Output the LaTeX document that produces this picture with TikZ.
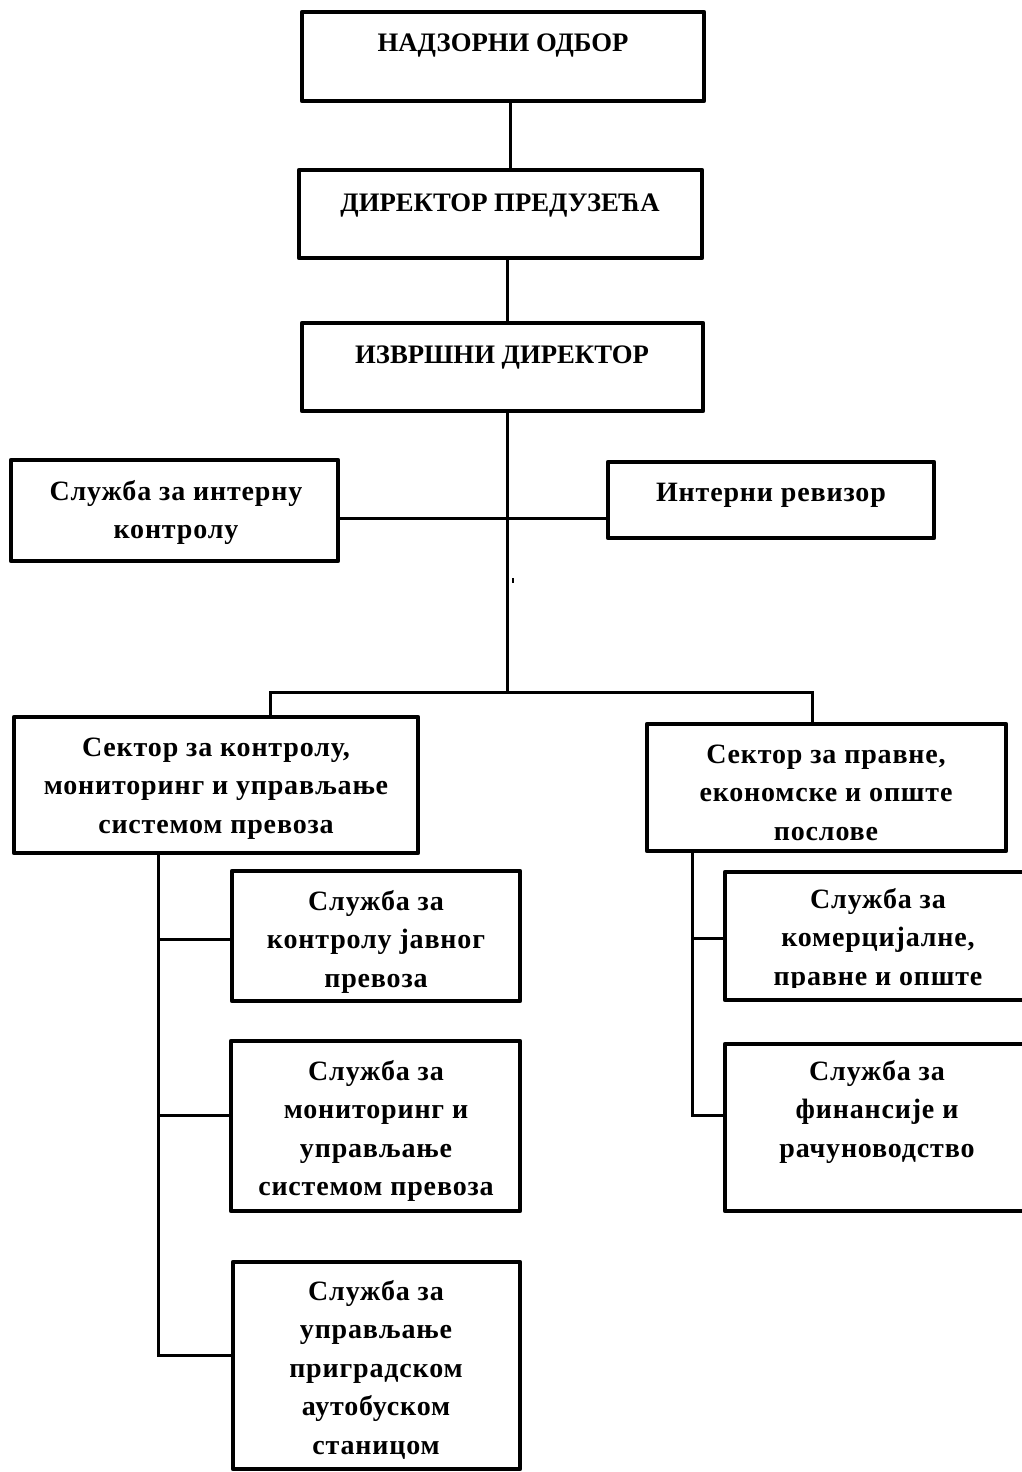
\documentclass[tikz,border=0pt]{standalone}
\usepackage{fontspec}
\setmainfont{Liberation Serif}
\newfontfamily\lowfont[LetterSpace=3]{Liberation Serif}
\usetikzlibrary{calc}
\newcommand{\mlines}[1]{\vtop{\baselineskip=38.5pt\halign{\hfil##\hfil\cr#1\crcr}}}
\begin{document}
\begin{tikzpicture}[x=1pt,y=-1pt,
  orgbox/.style={draw, line width=4.2pt, line join=round, inner sep=0pt, outer sep=0pt, anchor=north west},
  lbl/.style={anchor=base, inner sep=0pt, font=\lowfont\fontsize{28}{38.5}\selectfont\bfseries},
  toplbl/.style={anchor=base, inner sep=0pt, font=\fontsize{26.7}{38.5}\selectfont\bfseries},
  conn/.style={line width=3pt}]
\useasboundingbox (0,0) rectangle (1022,1472);
% boxes
\node[orgbox, minimum width=402pt, minimum height=89pt] (A) at (302,12) {};
\node[orgbox, minimum width=403pt, minimum height=88pt] (B) at (299,170) {};
\node[orgbox, minimum width=401pt, minimum height=88pt] (C) at (302,323) {};
\node[orgbox, minimum width=327pt, minimum height=101pt] (D) at (11,460) {};
\node[orgbox, minimum width=326pt, minimum height=76pt] (E) at (608,462) {};
\node[orgbox, minimum width=404pt, minimum height=136pt] (F) at (14,717) {};
\node[orgbox, minimum width=359pt, minimum height=127pt] (G) at (647,724) {};
\node[orgbox, minimum width=288pt, minimum height=130pt] (H1) at (232,871) {};
\node[orgbox, minimum width=289pt, minimum height=170pt] (H2) at (231,1041) {};
\node[orgbox, minimum width=287pt, minimum height=207pt] (H3) at (233,1262) {};
\node[orgbox, minimum width=315pt, minimum height=128pt] (I1) at (725,872) {};
\node[orgbox, minimum width=315pt, minimum height=167pt] (I2) at (725,1044) {};
% texts
\node[toplbl] (tA) at (503,52) {НАДЗОРНИ ОДБОР};
\node[toplbl] (tB) at (500,211) {ДИРЕКТОР ПРЕДУЗЕЋА};
\node[toplbl] (tC) at (502,363) {ИЗВРШНИ ДИРЕКТОР};
\node[lbl] (tD) at (176,500) {\mlines{Служба за интерну\cr контролу}};
\node[lbl] (tE) at (771,501) {Интерни ревизор};
\node[lbl] (tF) at (216,756) {\mlines{Сектор за контролу,\cr мониторинг и управљање\cr системом превоза}};
\node[lbl] (tG) at (826,763) {\mlines{Сектор за правне,\cr економске и опште\cr послове}};
\node[lbl] (tH1) at (376,910) {\mlines{Служба за\cr контролу јавног\cr превоза}};
\node[lbl] (tH2) at (376,1080) {\mlines{Служба за\cr мониторинг и\cr управљање\cr системом превоза}};
\node[lbl] (tH3) at (376,1300) {\mlines{Служба за\cr управљање\cr приградском\cr аутобуском\cr станицом}};
\begin{scope}
\clip (725,872) rectangle (1040,987);
\node[lbl] (tI1) at (878,908) {\mlines{Служба за\cr комерцијалне,\cr правне и опште}};
\end{scope}
\node[lbl] (tI2) at (877,1080) {\mlines{Служба за\cr финансије и\cr рачуноводство}};
\node[fill, inner sep=0pt, minimum width=1.6pt, minimum height=5pt] (dot) at (513,580) {};
% connectors
\coordinate (bus) at ($(C.south)+(5,281)$);
\draw[conn] ([xshift=7pt]A.south) -- ([xshift=7pt]A.south |- B.north);
\draw[conn] ([xshift=7pt]B.south) -- ([xshift=7pt]B.south |- C.north);
\draw[conn] ([xshift=5pt]C.south) -- (bus);
\draw[conn] ([yshift=-8pt]D.east) -- ([yshift=-8pt]D.east -| E.west);
\draw[conn] (F.north -| 270,0) -- (270,692) -- (812,692) -- (G.north -| 812,0);
\draw[conn] (F.south -| 158,0) -- (158,1355) -- (H3.west |- 0,1355);
\draw[conn] (158,939) -- (H1.west |- 0,939);
\draw[conn] (158,1115) -- (H2.west |- 0,1115);
\draw[conn] (G.south -| 692,0) -- (692,1115) -- (I2.west |- 0,1115);
\draw[conn] (692,938) -- (I1.west |- 0,938);
\end{tikzpicture}
\end{document}
